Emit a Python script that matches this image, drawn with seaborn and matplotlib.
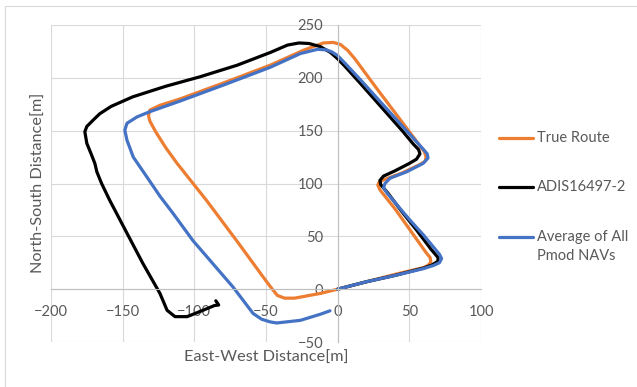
import numpy as np
import pandas as pd
import seaborn as sns
import matplotlib.pyplot as plt
from matplotlib.lines import Line2D

# route points, metres
true_x = [0, 20, 40, 60, 63, 65, 64.5, 62, 50.5, 40, 29.5, 28, 29, 33, 45, 57.4, 61, 61.7, 60.5, 55,
          40, 25, 12, 7, 2, -3, -10, -24, -47, -80, -110, -124, -131, -132, -131, -127, -120,
          -112, -91.5, -70, -49, -45, -42, -37, -30, -12, 0]
true_y = [0, 7, 14, 20.5, 22.5, 25.5, 30, 34, 56, 76, 94, 98.5, 101.5, 104, 110, 118, 121, 125, 130, 140,
          167, 194, 218, 226, 231.5, 233.5, 233, 226, 212, 195, 180, 174, 169.5, 164, 159, 149, 134,
          119, 84, 45, 6, -1, -6, -8.5, -8.5, -4, 0]

adis_x = [0, 20, 40, 60, 66, 70, 70, 65, 55, 45, 35, 30, 29.5, 32, 40, 50, 55, 57.4, 56.5, 53, 45,
          30, 15, 5, 0, -5, -12, -20, -27, -35, -47, -70, -96, -120, -143, -158, -166, -170.6,
          -175, -176.4, -175, -171.7, -169.4, -168, -164.7, -159, -147, -136, -124, -119, -113.5,
          -105, -94, -86, -83, -85]
adis_y = [0, 7, 13, 20, 23, 26.5, 30, 38, 56, 73, 91, 99, 103, 107, 112, 119, 123, 128, 132, 137, 150,
          173, 196, 211, 218, 224, 229.5, 232.5, 233, 231, 224, 212, 201, 192, 182, 173, 166, 160,
          154, 149, 138, 127, 119, 111, 100, 84, 53, 24.6, -4, -20, -26,
          -26, -20, -15.5, -15, -11]

avg_x = [0, 20, 40, 60, 67, 71, 72.5, 71, 60, 50, 40, 34.4, 32, 33, 36.5, 48, 59.6, 63, 62.5, 60, 48,
         32, 16, 5, 0, -4, -8, -14, -26, -47, -80, -110, -131, -140, -147, -148.5, -147,
         -142.6, -133, -124, -115, -101, -73, -59, -53, -47, -42.6, -26, -12, -5.4]
avg_y = [0, 7, 13, 19.5, 22.5, 25, 29, 33, 51, 66, 82, 91, 96, 100, 105, 111, 119, 124, 128, 132, 150,
         174, 198, 214, 221, 224.5, 226.5, 227, 223, 210, 193, 178, 168, 163, 157, 150.5, 141,
         125, 106, 88, 72, 46, 2, -23, -28.5, -31, -32, -29.5, -23.7, -20.5]

names = ["True Route", "ADIS16497-2", "Average of All\nPmod NAVs"]
colors = ["#ED7D31", "#000000", "#4472C4"]
xticks = [-200, -150, -100, -50, 0, 50, 100]
yticks = [-50, 0, 50, 100, 150, 200, 250]

sns.set_style("white")
plt.rcParams['font.family'] = ['Lato', 'DejaVu Sans']

fig = plt.figure(figsize=(6.37, 3.87), dpi=100)
ax = fig.add_axes([51 / 637, 1 - 342 / 387, 430 / 637, 317 / 387])

for nm, xs, ys, c in zip(names, [true_x, adis_x, avg_x], [true_y, adis_y, avg_y], colors):
    d = pd.DataFrame({"x": xs, "y": ys})
    sns.lineplot(data=d, x="x", y="y", sort=False, estimator=None, color=c, lw=2.3,
                 solid_joinstyle="round", solid_capstyle="round", ax=ax)

ax.set_xlim(-200, 100)
ax.set_ylim(-50, 250)
ax.set_xticks(xticks)
ax.set_yticks(yticks)
ax.set_xlabel("")
ax.set_ylabel("")
ax.grid(True, color="#D9D9D9", lw=0.8)
for gl in ax.get_xgridlines() + ax.get_ygridlines():
    gl.set_clip_on(False)

for s in ["top", "right"]:
    ax.spines[s].set_visible(False)
ax.spines["left"].set_position(("data", 0))
ax.spines["bottom"].set_position(("data", 0))
for s in ["left", "bottom"]:
    ax.spines[s].set_color("#BFBFBF")
    ax.spines[s].set_linewidth(0.8)
ax.tick_params(axis="x", length=0, pad=11.5, labelsize=10.5, labelcolor="#595959")
ax.tick_params(axis="y", length=0, pad=10.5, labelsize=10.5, labelcolor="#595959")

fig.text(266 / 637, 1 - 358 / 387, "East-West Distance[m]", ha="center", va="center",
         fontsize=11.7, color="#595959")
fig.text(39 / 637, 1 - 183 / 387, "North-South Distance[m]", ha="center", va="center",
         rotation=90, fontsize=11.7, color="#595959")

# legend by hand, entries as in the picture
leg_y = [137.5, 187.3, 236.7]
for nm, c, yy in zip(names, colors, leg_y):
    fy = 1 - yy / 387
    fig.add_artist(Line2D([499 / 637, 533 / 637], [fy, fy], transform=fig.transFigure, color=c, lw=2.3))
    lines = nm.split("\n")
    for k, t in enumerate(lines):
        fig.text(537 / 637, 1 - (yy + 19 * k) / 387, t, ha="left", va="center",
                 fontsize=10.5, color="#595959")

# chart area border
fig.add_artist(Line2D([4.5 / 637, 4.5 / 637], [0, 1 - 5.5 / 387], transform=fig.transFigure, color="#D9D9D9", lw=0.8))
fig.add_artist(Line2D([4.5 / 637, 1], [1 - 5.5 / 387, 1 - 5.5 / 387], transform=fig.transFigure, color="#D9D9D9", lw=0.8))

fig.savefig("out.png", dpi=100)
